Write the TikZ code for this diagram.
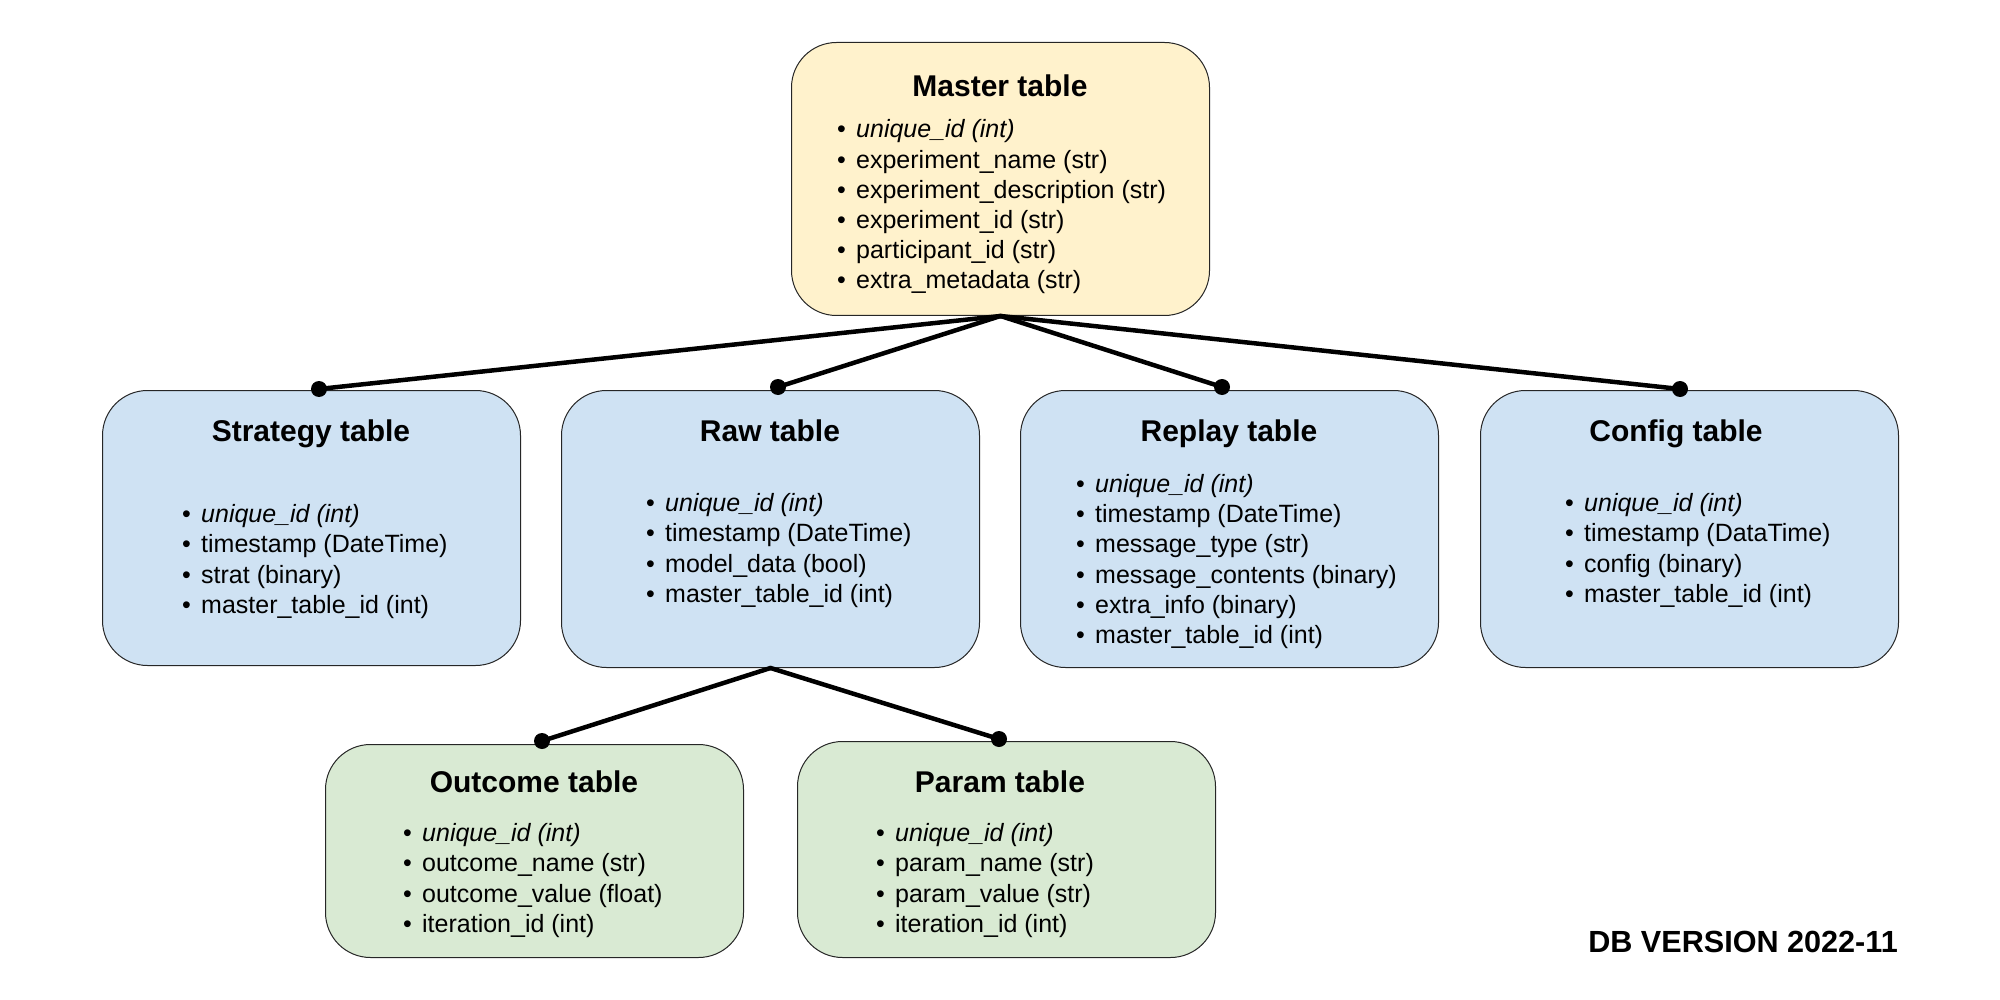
\documentclass[tikz,border=0pt]{standalone}
\usepackage{fontspec}
\setmainfont{Liberation Sans}
\definecolor{myyellow}{HTML}{FFF2CC}
\definecolor{myblue}{HTML}{CFE2F3}
\definecolor{mygreen}{HTML}{D9EAD3}
\newcommand\bl{\makebox[19pt][l]{•}}
\begin{document}
\begin{tikzpicture}[x=1pt,y=-1pt,
  tbox/.style={draw=black!85, line width=1pt, rounded corners=45pt, inner sep=0pt, anchor=north west, minimum width=418pt},
  ttl/.style={font=\fontsize{30}{36}\selectfont\bfseries, anchor=base, inner sep=0pt},
  lst/.style={font=\fontsize{25}{30.2}\selectfont, align=left, anchor=west, inner sep=0pt},
  conn/.style={line width=4.5pt, line cap=round},
  dotc/.style={fill=black}
]
\useasboundingbox (0,0) rectangle (2000,1000);

% boxes
\node[tbox, fill=myyellow, minimum height=273pt] (m) at (791,42) {};
\node[tbox, fill=myblue, minimum height=275pt] (s) at (102,390) {};
\node[tbox, fill=myblue, minimum height=277pt] (r) at (561,390) {};
\node[tbox, fill=myblue, minimum height=277pt] (rp) at (1020,390) {};
\node[tbox, fill=myblue, minimum height=277pt] (c) at (1480,390) {};
\node[tbox, fill=mygreen, minimum height=213pt] (o) at (325,744) {};
\node[tbox, fill=mygreen, minimum height=216pt] (p) at (797,741) {};

% titles
\node[ttl] (mt) at (1000,97) {Master table};
\node[ttl] (st) at (311,441) {Strategy table};
\node[ttl] (rt) at (770,441) {Raw table};
\node[ttl] (rpt) at (1229,441) {Replay table};
\node[ttl] (ct) at (1676,441) {Config table};
\node[ttl] (ot) at (534,792) {Outcome table};
\node[ttl] (pt) at (1000,792) {Param table};

% lists
\node[lst] (ml) at (837,207) {\bl\textit{unique\_id (int)}\\\bl experiment\_name (str)\\\bl experiment\_description (str)\\\bl experiment\_id (str)\\\bl participant\_id (str)\\\bl extra\_metadata (str)};
\node[lst] (sl) at (182,561.5) {\bl\textit{unique\_id (int)}\\\bl timestamp (DateTime)\\\bl strat (binary)\\\bl master\_table\_id (int)};
\node[lst] (rl) at (646,550.5) {\bl\textit{unique\_id (int)}\\\bl timestamp (DateTime)\\\bl model\_data (bool)\\\bl master\_table\_id (int)};
\node[lst] (rpl) at (1076,561.5) {\bl\textit{unique\_id (int)}\\\bl timestamp (DateTime)\\\bl message\_type (str)\\\bl message\_contents (binary)\\\bl extra\_info (binary)\\\bl master\_table\_id (int)};
\node[lst] (cl) at (1565,550.5) {\bl\textit{unique\_id (int)}\\\bl timestamp (DataTime)\\\bl config (binary)\\\bl master\_table\_id (int)};
\node[lst] (ol) at (403,880.5) {\bl\textit{unique\_id (int)}\\\bl outcome\_name (str)\\\bl outcome\_value (float)\\\bl iteration\_id (int)};
\node[lst] (pl) at (876,880.5) {\bl\textit{unique\_id (int)}\\\bl param\_name (str)\\\bl param\_value (str)\\\bl iteration\_id (int)};

% version
\node[font=\fontsize{30.6}{36}\selectfont\bfseries, anchor=base east, inner sep=0pt] (ver) at (1898,952) {DB VERSION 2022-11};

% connector ends
\coordinate (ds) at (319,389);
\coordinate (dr) at (778,387);
\coordinate (drp) at (1222,387);
\coordinate (dc) at (1680,389);
\coordinate (do) at (542,741);
\coordinate (dp) at (999,739);

\draw[conn] (m.south) -- (ds);
\draw[conn] (m.south) -- (dr);
\draw[conn] (m.south) -- (drp);
\draw[conn] (m.south) -- (dc);
\draw[conn] (r.south) -- (do);
\draw[conn] (r.south) -- (dp);
\foreach \d in {ds,dr,drp,dc,do,dp} \fill[dotc] (\d) circle (8pt);
\end{tikzpicture}
\end{document}
